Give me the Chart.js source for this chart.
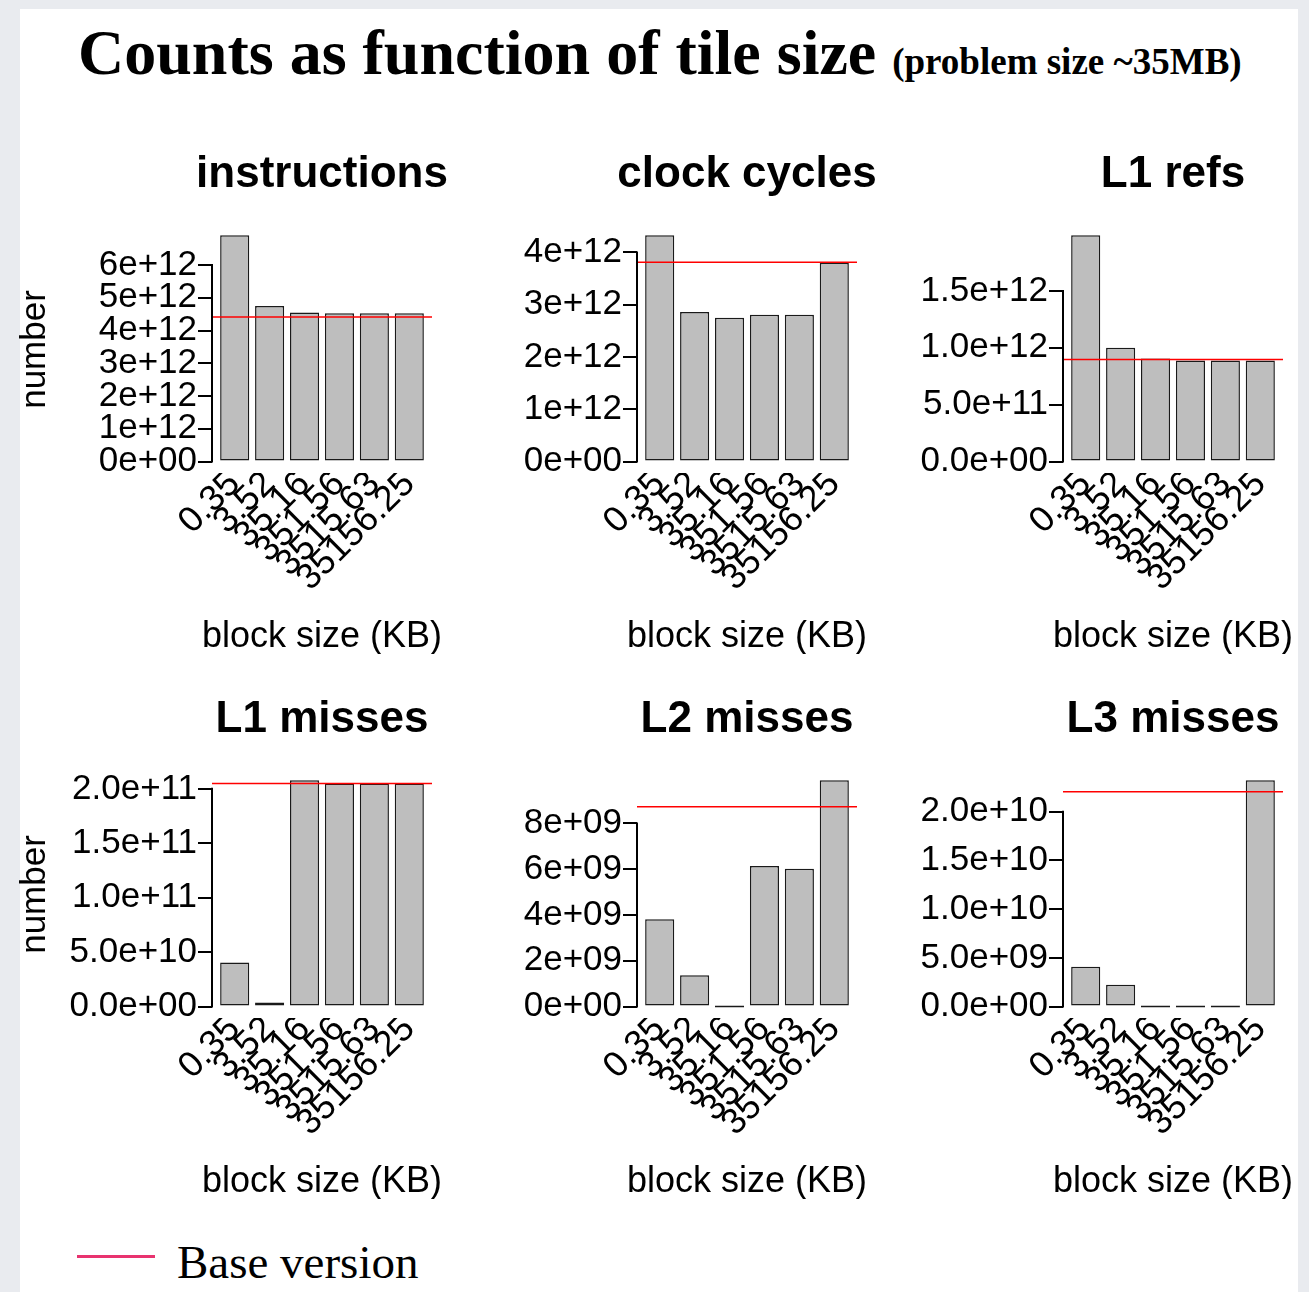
<!DOCTYPE html>
<html>
<head>
<meta charset="utf-8">
<title>Counts as function of tile size</title>
<script src="https://cdn.jsdelivr.net/npm/chart.js@4.4.0/dist/chart.umd.min.js"></script>
<style>
  body { margin: 0; width: 1309px; height: 1292px; overflow: hidden; position: relative; background: #e9ebef; }
  #slide { position: absolute; left: 20px; top: 9px; width: 1278px; height: 1290px; background: #fff; }
  #titulo { position: absolute; left: 78px; top: 21px; font-family: 'Liberation Serif', 'Times New Roman', serif; font-weight: bold; font-size: 64px; line-height: 1; white-space: nowrap; color: #000; }
  #titulo span { font-size: 37px; }
  canvas { position: absolute; }
  #leyenda-linea { position: absolute; left: 77px; top: 1255px; width: 78px; height: 2.5px; background: #e8336f; }
  #leyenda-texto { position: absolute; left: 177px; top: 1239px; font-family: 'Liberation Serif', 'Times New Roman', serif; font-size: 47px; line-height: 1; white-space: nowrap; color: #000; }
</style>
</head>
<body>
<div id="slide"></div>
<div id="titulo">Counts as function of tile size <span>(problem size ~35MB)</span></div>
<div id="leyenda-linea"></div>
<div id="leyenda-texto">Base version</div>
<script>
const blockSizes = ['0.35', '3.52', '35.16', '351.56', '3515.63', '35156.25'];
const panelTitles = ['instructions', 'clock cycles', 'L1 refs', 'L1 misses', 'L2 misses', 'L3 misses'];
const xTitle = 'block size (KB)';
const yTitle = 'number';

// valores de cada panel (una barra por tamaño de bloque)
const instructions = [6.91e12, 4.75e12, 4.55e12, 4.53e12, 4.53e12, 4.53e12];
const clockCycles = [4.33e12, 2.86e12, 2.75e12, 2.81e12, 2.81e12, 3.80e12];
const l1Refs = [1.99e12, 1.00e12, 0.906e12, 0.889e12, 0.889e12, 0.889e12];
const l1Misses = [4.04e10, 3.7e9, 2.08e11, 2.05e11, 2.05e11, 2.05e11];
const l2Misses = [3.81e9, 1.37e9, 0, 6.14e9, 6.02e9, 9.89e9];
const l3Misses = [4.09e9, 2.25e9, 0, 0, 0, 2.324e10];

// version base (linea roja)
const baseValues = [4.41e12, 3.81e12, 0.897e12, 2.05e11, 8.73e9, 2.205e10];

// marcas del eje y
const ticksInstructions = [0, 1e12, 2e12, 3e12, 4e12, 5e12, 6e12];
const labelsInstructions = ['0e+00', '1e+12', '2e+12', '3e+12', '4e+12', '5e+12', '6e+12'];
const ticksClock = [0, 1e12, 2e12, 3e12, 4e12];
const labelsClock = ['0e+00', '1e+12', '2e+12', '3e+12', '4e+12'];
const ticksL1Refs = [0, 5e11, 1e12, 1.5e12];
const labelsL1Refs = ['0.0e+00', '5.0e+11', '1.0e+12', '1.5e+12'];
const ticksL1Misses = [0, 5e10, 1e11, 1.5e11, 2e11];
const labelsL1Misses = ['0.0e+00', '5.0e+10', '1.0e+11', '1.5e+11', '2.0e+11'];
const ticksL2Misses = [0, 2e9, 4e9, 6e9, 8e9];
const labelsL2Misses = ['0e+00', '2e+09', '4e+09', '6e+09', '8e+09'];
const ticksL3Misses = [0, 5e9, 1e10, 1.5e10, 2e10];
const labelsL3Misses = ['0.0e+00', '5.0e+09', '1.0e+10', '1.5e+10', '2.0e+10'];

const series = [instructions, clockCycles, l1Refs, l1Misses, l2Misses, l3Misses];
const tickValues = [ticksInstructions, ticksClock, ticksL1Refs, ticksL1Misses, ticksL2Misses, ticksL3Misses];
const tickLabels = [labelsInstructions, labelsClock, labelsL1Refs, labelsL1Misses, labelsL2Misses, labelsL3Misses];

const fuente = "'Liberation Sans', Arial, Helvetica, sans-serif";
Chart.defaults.font.family = fuente;
Chart.defaults.color = '#000';

// posiciones de los paneles
const plotLefts = [212, 637, 1063];
const panelTops = [140, 685];
const yBoxWidth = 205;
const plotWidth = 220;
const rightSpace = 30;
const canvasHeight = 514;
const xBoxHeight = 181;
const topSpace = 86;

// linea del eje y solo entre la primera y la ultima marca (estilo R)
const ejeY = {
    id: 'ejeY',
    afterDraw(chart) {
        const y = chart.scales.y;
        const ctx = chart.ctx;
        const x = chart.chartArea.left;
        const marcas = y.ticks;
        ctx.save();
        ctx.strokeStyle = '#000';
        ctx.lineWidth = 2;
        ctx.beginPath();
        ctx.moveTo(x, y.getPixelForValue(marcas[0].value) + 1);
        ctx.lineTo(x, y.getPixelForValue(marcas[marcas.length - 1].value) - 1);
        ctx.stroke();
        ctx.restore();
    }
};

// titulo del panel y titulo del eje x, centrados en el area del grafico sin comprimir
const textos = {
    id: 'textos',
    afterDraw(chart, args, opts) {
        const area = chart.chartArea;
        const cx = (area.left + area.right) / 2;
        const ctx = chart.ctx;
        ctx.save();
        ctx.fillStyle = '#000';
        ctx.textAlign = 'center';
        ctx.textBaseline = 'middle';
        ctx.font = 'bold 44px ' + fuente;
        ctx.fillText(opts.titulo, cx, area.top - 51);
        ctx.font = '36px ' + fuente;
        ctx.fillText(opts.ejeX, cx, area.bottom + 164);
        ctx.restore();
    }
};

function crearPanel(i) {
    const col = i % 3;
    const row = Math.floor(i / 3);
    const canvas = document.createElement('canvas');
    canvas.width = yBoxWidth + plotWidth + rightSpace;
    canvas.height = canvasHeight;
    canvas.style.left = (plotLefts[col] - yBoxWidth) + 'px';
    canvas.style.top = panelTops[row] + 'px';
    document.body.appendChild(canvas);

    const values = series[i];
    // rango como barplot de R: ylim = (-1% max, max) ampliado un 4%
    const top = Math.max(...values);
    const low = -0.01 * top;
    const extra = 0.04 * (top - low);
    // barras de ancho 1 con espacio 0.2
    const centers = values.map((v, k) => 0.7 + 1.2 * k);
    const xMin = 0.2 - 0.28;
    const xMax = 7.2 + 0.28;

    new Chart(canvas, {
        type: 'bar',
        data: {
            datasets: [
                {
                    type: 'line',
                    label: 'Base version',
                    data: [{ x: xMin, y: baseValues[i] }, { x: xMax, y: baseValues[i] }],
                    borderColor: '#ff0000',
                    borderWidth: 1.5,
                    pointRadius: 0,
                    order: 0
                },
                {
                    type: 'bar',
                    label: panelTitles[i],
                    data: values.map((v, k) => ({ x: centers[k], y: v })),
                    backgroundColor: '#bebebe',
                    borderColor: '#1a1a1a',
                    borderWidth: 1.5,
                    borderSkipped: false,
                    barPercentage: 1 / 1.2,
                    categoryPercentage: 1,
                    minBarLength: 2,
                    order: 1
                }
            ]
        },
        options: {
            responsive: false,
            animation: false,
            events: [],
            layout: { padding: { top: topSpace, left: 0, right: rightSpace, bottom: 0 } },
            plugins: {
                legend: { display: false },
                tooltip: { enabled: false },
                title: { display: false },
                textos: { titulo: panelTitles[i], ejeX: xTitle }
            },
            scales: {
                x: {
                    type: 'linear',
                    offset: false,
                    min: xMin,
                    max: xMax,
                    grid: { display: false, offset: false },
                    border: { display: false },
                    ticks: {
                        autoSkip: false,
                        minRotation: 45,
                        maxRotation: 45,
                        padding: -18,
                        color: '#000',
                        font: { size: 36 },
                        callback: (v, k) => blockSizes[k]
                    },
                    afterBuildTicks: s => { s.ticks = centers.map(c => ({ value: c })); },
                    afterFit: s => { s.height = xBoxHeight; s.paddingLeft = 0; s.paddingRight = 0; }
                },
                y: {
                    type: 'linear',
                    min: low - extra,
                    max: top + extra,
                    grid: { drawOnChartArea: false, drawTicks: true, tickLength: 14, color: '#000', lineWidth: 2 },
                    border: { display: false },
                    ticks: {
                        autoSkip: false,
                        padding: 1,
                        color: '#000',
                        font: { size: 35 },
                        callback: (v, k) => tickLabels[i][k]
                    },
                    title: {
                        display: col === 0,
                        text: yTitle,
                        color: '#000',
                        font: { size: 35, lineHeight: 1 },
                        padding: { top: 10.5, bottom: 0 }
                    },
                    afterBuildTicks: s => { s.ticks = tickValues[i].map(t => ({ value: t })); },
                    afterFit: s => { s.width = yBoxWidth; s.paddingTop = 0; s.paddingBottom = 0; }
                }
            }
        },
        plugins: [ejeY, textos]
    });
}

for (let i = 0; i < 6; i++) {
    crearPanel(i);
}
</script>
</body>
</html>
